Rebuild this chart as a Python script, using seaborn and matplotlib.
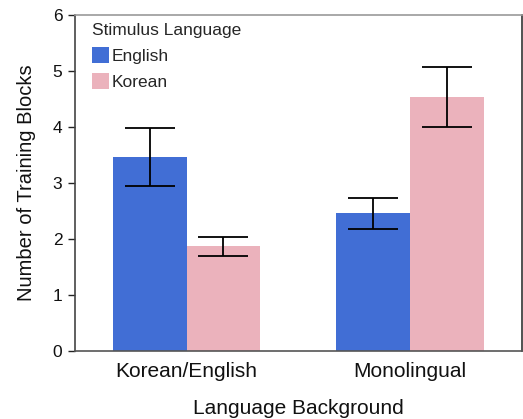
import matplotlib
matplotlib.use("Agg")
import matplotlib.pyplot as plt
import seaborn as sns
import pandas as pd

# Mean number of training blocks, with error bar half-widths
backgrounds = ["Korean/English", "Monolingual"]
stim_languages = ["English", "Korean"]
english_means = [3.46, 2.46]
korean_means = [1.87, 4.54]
english_err = [0.52, 0.28]
korean_err = [0.17, 0.53]

y_ticks = [0, 1, 2, 3, 4, 5, 6]

colors = {"English": "#416ED5", "Korean": "#EBB2BC"}

df = pd.DataFrame({
    "Language Background": backgrounds * 2,
    "Stimulus Language": ["English"] * 2 + ["Korean"] * 2,
    "Blocks": english_means + korean_means,
    "Err": english_err + korean_err,
})

sns.set_theme(style="white")
plt.rcParams["font.family"] = ["Liberation Sans", "DejaVu Sans"]

fig = plt.figure(figsize=(5.23, 4.19), dpi=100)
ax = fig.add_axes([0.143, 0.162, 0.855, 0.802])

sns.barplot(
    data=df, x="Language Background", y="Blocks", hue="Stimulus Language",
    order=backgrounds, hue_order=stim_languages, palette=colors,
    errorbar=None, width=0.66, saturation=1, linewidth=0, ax=ax,
)

# error bars centred on each drawn bar
for container, level in zip(ax.containers, stim_languages):
    sub = df[df["Stimulus Language"] == level].set_index("Language Background").loc[backgrounds]
    for bar, mean, err in zip(container, sub["Blocks"], sub["Err"]):
        xc = bar.get_x() + bar.get_width() / 2
        ax.errorbar(xc, mean, yerr=err, fmt="none", ecolor="black",
                    elinewidth=1.3, capsize=18, capthick=1.3, zorder=5)

ax.set_xlim(-0.5, 1.5)
ax.set_ylim(0, 6)
ax.set_yticks(y_ticks)
ax.set_yticklabels([str(t) for t in y_ticks], fontsize=12.5)
ax.tick_params(axis="y", which="both", left=True, length=5, width=1,
               color="#222222", direction="out", pad=4)
ax.tick_params(axis="x", bottom=False, labelsize=15, pad=2)
for lbl in ax.get_xticklabels():
    lbl.set_color("#111111")
for lbl in ax.get_yticklabels():
    lbl.set_color("#111111")

ax.set_xlabel("Language Background", fontsize=15, labelpad=13, color="#111111")
ax.set_ylabel("Number of Training Blocks", fontsize=14.5, labelpad=12, color="#111111")

for side in ["left", "bottom", "right", "top"]:
    ax.spines[side].set_visible(True)
    ax.spines[side].set_linewidth(1.2)
ax.spines["left"].set_color("#444444")
ax.spines["bottom"].set_color("#555555")
ax.spines["right"].set_color("#333333")
ax.spines["top"].set_color("#999999")

handles, labels = ax.get_legend_handles_labels()
ax.legend(handles, labels, title="Stimulus Language", loc="upper left",
          bbox_to_anchor=(0.038, 0.975), frameon=False, alignment="left",
          fontsize=12.5, title_fontsize=12.5, handlelength=1.0,
          handleheight=1.05, handletextpad=0.15, labelspacing=0.5,
          borderpad=0, borderaxespad=0)

fig.savefig("out.png", dpi=100)
